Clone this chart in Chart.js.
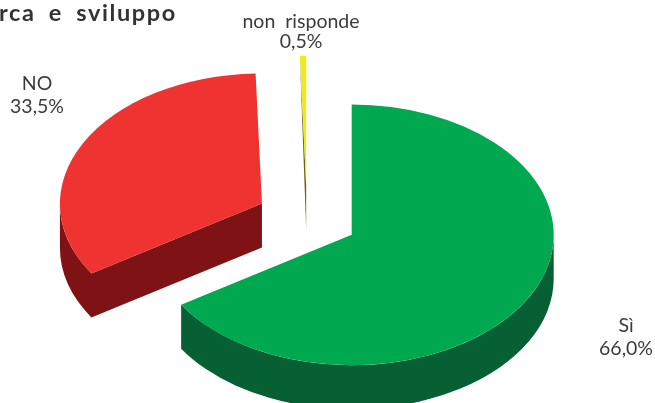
<!DOCTYPE html>
<html>
<head>
<meta charset="utf-8">
<style>
    html, body { margin: 0; padding: 0; background: #fff; overflow: hidden; }
    canvas { display: block; }
</style>
<script src="https://cdn.jsdelivr.net/npm/chart.js@4"></script>
</head>
<body>
<canvas id="pieChart" width="655" height="403"></canvas>
<script>
const categories = ["Sì", "NO", "non risponde"];
const percents = [66.0, 33.5, 0.5];
const topColors = ["#00a84f", "#ef3330", "#f2e81c"];
const wallColors = ["#066033", "#7f1214", "#6b6518"];
const title = "rca e sviluppo";

const squash = 0.645;
const explode = 51;
const depth = 44;
const textColor = "#3b3b3d";

// wall + top of each slice, pie is flattened with a canvas scale
const pie3d = {
    id: "pie3d",
    beforeDatasetsDraw(chart) {
        const ctx = chart.ctx;
        const arcs = chart.getDatasetMeta(0).data;

        [1, 2, 0].forEach((i) => {
            const arc = arcs[i];
            const r = arc.outerRadius;
            const mid = (arc.startAngle + arc.endAngle) / 2;
            const dx = Math.cos(mid) * explode;
            const dy = Math.sin(mid) * explode * squash;
            const cx = arc.x + dx;
            const cy = arc.y + dy;

            ctx.fillStyle = wallColors[i];

            // only the front half of the rim shows
            const a0 = Math.max(arc.startAngle, 0);
            const a1 = Math.min(arc.endAngle, Math.PI);
            if (a1 > a0) {
                const showCut = arc.startAngle > 0;
                ctx.beginPath();
                if (showCut) ctx.moveTo(cx, cy);
                ctx.ellipse(cx, cy, r, r * squash, 0, a0, a1);
                ctx.ellipse(cx, cy + depth, r, r * squash, 0, a1, a0, true);
                if (showCut) ctx.lineTo(cx, cy + depth);
                ctx.closePath();
                ctx.fill();
            }

            // thin slice: dark sliver along its left edge
            if (arc.endAngle - arc.startAngle < 0.1) {
                ctx.beginPath();
                ctx.moveTo(cx + Math.cos(arc.startAngle) * r, cy + Math.sin(arc.startAngle) * r * squash);
                ctx.lineTo(cx, cy);
                ctx.lineTo(cx, cy + depth);
                ctx.closePath();
                ctx.fill();
            }

            ctx.save();
            ctx.translate(dx, arc.y + dy);
            ctx.scale(1, squash);
            ctx.translate(0, -arc.y);
            arc.draw(ctx);
            ctx.restore();
        });
        return false;
    },
    afterDraw(chart) {
        const ctx = chart.ctx;
        ctx.save();
        ctx.textBaseline = "alphabetic";

        ctx.fillStyle = "#333335";
        ctx.font = "bold 23.5px Lato";
        ctx.letterSpacing = "1.6px";
        ctx.wordSpacing = "6px";
        ctx.textAlign = "left";
        ctx.fillText(title, -1, 21);

        ctx.fillStyle = textColor;
        ctx.font = "19.5px Lato";
        ctx.letterSpacing = "0px";
        ctx.wordSpacing = "5px";
        ctx.textAlign = "center";
        const labelSpots = [[626, 332, 355], [37, 90, 113], [301, 28, 48]];
        categories.forEach((name, i) => {
            const [x, y1, y2] = labelSpots[i];
            ctx.fillText(name, x, y1);
            ctx.fillText(percents[i].toFixed(1).replace(".", ",") + "%", x, y2);
        });
        ctx.restore();
    },
};

new Chart(document.getElementById("pieChart"), {
    type: "pie",
    data: {
        labels: categories,
        datasets: [
            {
                data: percents,
                backgroundColor: topColors,
                borderWidth: 0,
                radius: 202,
            },
        ],
    },
    options: {
        responsive: false,
        animation: false,
        layout: { padding: { right: 41, top: 35 } },
        plugins: {
            legend: { display: false },
            tooltip: { enabled: false },
        },
    },
    plugins: [pie3d],
});
</script>
</body>
</html>
